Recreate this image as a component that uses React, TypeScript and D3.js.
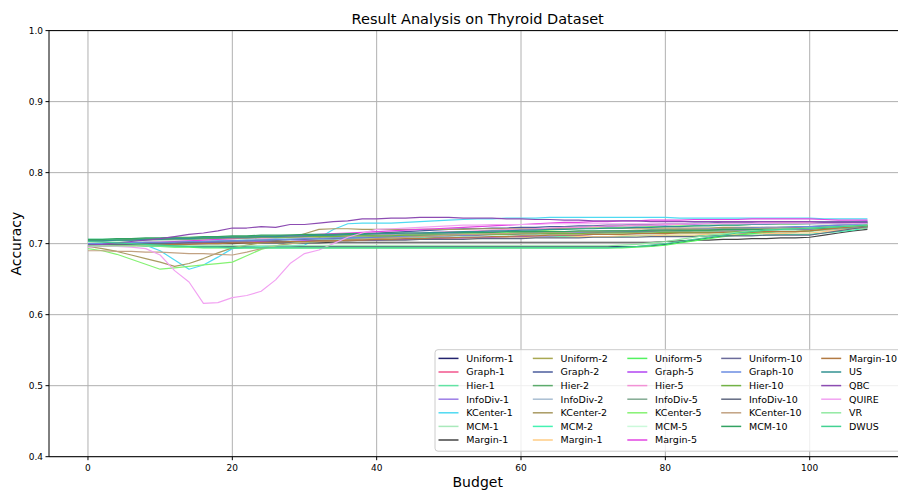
import { useEffect, useRef } from "react"
import * as d3 from "d3"

// budgets on the x axis
const budgets = [
  0, 2, 4, 6, 8, 10, 12, 14, 16, 18,
  20, 22, 24, 26, 28, 30, 32, 34, 36, 38,
  40, 42, 44, 46, 48, 50, 52, 54, 56, 58,
  60, 62, 64, 66, 68, 70, 72, 74, 76, 78,
  80, 82, 84, 86, 88, 90, 92, 94, 96, 98,
  100, 102, 104, 106, 108,
]

const yTicks = [0.4, 0.5, 0.6, 0.7, 0.8, 0.9, 1.0]
const xTicks = [0, 20, 40, 60, 80, 100]

// accuracy values in thousandths
const uniform1 = [699,699,698,698,697,697,697,696,696,696, 696,696,696,696,696,696,696,696,696,696, 696,696,696,696,696,696,696,696,696,696, 696,696,696,696,696,696,696,696,696,697, 699,702,705,708,711,713,715,717,719,720, 721,722,723,724,725]
const graph1 = [702,702,703,703,703,704,704,704,705,705, 705,706,706,706,707,707,707,708,708,708, 709,709,709,710,710,710,711,711,711,712, 712,712,713,713,713,714,714,714,715,715, 715,716,716,716,717,717,717,718,718,718, 719,719,720,721,722]
const hier1 = [704,704,705,705,706,706,707,707,708,708, 709,709,710,710,711,711,711,712,712,712, 713,713,713,714,714,714,714,715,715,715, 715,716,716,716,716,716,717,717,717,717, 717,718,718,718,718,719,719,719,719,720, 720,721,722,723,724]
const infoDiv1 = [697,697,698,698,698,699,699,700,700,701, 701,702,702,703,703,704,705,706,707,708, 709,710,711,712,713,714,715,716,717,718, 719,720,721,722,723,724,724,725,725,726, 726,727,727,728,728,728,729,729,729,730, 730,730,731,731,732]
const kCenter1 = [704,704,703,702,698,690,677,664,670,681, 693,695,696,697,697,698,708,720,728,729, 729,729,730,731,732,733,734,735,735,736, 736,736,737,737,737,737,737,737,737,737, 737,736,736,736,736,736,736,736,736,736, 736,735,735,735,735]
const mcm1 = [700,700,701,701,702,702,703,703,703,704, 704,705,705,705,706,706,707,707,707,708, 708,709,709,709,710,710,710,711,711,711, 712,712,712,712,713,713,713,713,714,714, 714,714,715,715,715,716,716,716,717,717, 717,719,721,723,725]
const margin1 = [697,698,698,699,699,699,700,700,700,700, 700,701,701,701,701,701,701,702,702,702, 702,702,702,702,702,702,702,702,702,702, 702,702,702,702,702,702,702,702,702,702, 703,704,705,705,706,706,707,707,708,708, 709,712,715,718,720]
const uniform2 = [701,701,702,702,702,703,703,703,704,704, 705,705,706,706,707,707,708,708,709,709, 710,710,711,711,711,712,712,712,713,713, 713,714,714,714,715,715,715,716,716,716, 717,717,717,718,718,718,719,719,719,720, 720,721,722,722,723]
const graph2 = [700,700,700,701,701,702,702,703,703,704, 705,706,707,708,709,710,711,712,713,714, 715,716,717,718,719,720,721,721,722,722, 723,723,724,724,725,725,726,726,727,727, 728,728,729,729,730,730,730,731,731,731, 731,731,731,731,731]
const hier2 = [705,705,706,706,707,707,708,708,709,709, 710,710,711,711,712,712,712,713,713,713, 714,714,714,714,715,715,715,715,715,716, 716,716,716,716,716,717,717,717,717,717, 717,718,718,718,718,718,719,719,719,719, 720,721,722,723,724]
const infoDiv2 = [698,698,699,699,700,700,701,701,702,702, 703,703,704,704,705,705,706,706,707,707, 708,708,709,709,710,710,711,711,711,712, 712,712,713,713,713,714,714,714,715,715, 715,716,716,716,717,717,717,718,718,718, 719,720,721,722,723]
const kCenter2 = [696,693,689,684,679,674,668,672,679,687, 694,698,701,704,708,714,720,721,721,720, 720,720,720,720,720,720,720,721,721,721, 721,721,721,721,721,722,722,722,722,722, 722,722,722,722,723,723,723,723,723,723, 724,724,724,725,725]
const mcm2 = [706,706,706,706,706,706,706,706,706,706, 706,706,706,707,707,707,707,707,707,708, 708,708,708,708,708,709,709,709,709,709, 709,709,710,710,710,710,710,710,711,711, 711,711,711,712,712,712,712,712,713,713, 713,715,717,719,722]
const margin1b = [698,698,699,699,700,700,700,701,701,701, 702,702,702,703,703,703,704,704,704,705, 705,705,706,706,706,707,707,707,708,708, 708,709,709,709,710,710,710,711,711,711, 712,712,712,713,713,713,714,714,714,715, 715,717,719,721,723]
const uniform5 = [701,700,699,698,697,696,695,695,694,694, 694,694,694,694,694,694,694,694,694,694, 694,694,694,694,694,694,694,694,694,694, 694,694,694,694,694,694,694,694,695,696, 698,701,704,707,710,712,714,716,718,719, 720,721,722,723,724]
const graph5 = [699,699,699,700,700,700,701,701,701,702, 702,702,703,703,703,704,704,704,705,705, 705,706,706,707,707,708,708,709,709,710, 710,711,711,712,712,713,713,714,714,715, 715,716,716,717,717,718,718,719,719,720, 720,721,722,723,724]
const hier5 = [701,701,702,702,703,703,704,704,705,705, 706,706,707,708,708,709,710,710,711,712, 713,713,714,715,716,717,717,718,719,720, 720,721,722,723,723,724,725,725,726,726, 727,727,728,728,729,729,729,730,730,730, 730,730,730,730,730]
const infoDiv5 = [703,703,704,704,705,705,706,706,707,707, 708,708,709,709,710,710,710,711,711,711, 712,712,712,712,713,713,713,713,714,714, 714,714,715,715,715,715,716,716,716,716, 717,717,717,717,718,718,718,718,719,719, 719,720,721,722,723]
const kCenter5 = [693,690,685,678,671,664,666,668,670,672, 674,683,692,697,700,702,703,704,705,706, 707,708,709,710,711,712,713,714,715,716, 717,718,719,720,721,722,722,723,723,724, 724,725,725,726,726,726,727,727,727,727, 728,728,728,728,728]
const mcm5 = [702,702,703,703,703,704,704,704,705,705, 705,706,706,706,707,707,707,708,708,708, 709,709,709,710,710,710,711,711,711,712, 712,712,712,713,713,713,714,714,714,715, 715,715,716,716,716,717,717,717,718,718, 718,720,722,724,726]
const margin5 = [700,700,701,701,702,702,703,704,705,706, 707,708,709,710,711,712,713,714,715,716, 717,718,719,720,721,722,723,724,725,726, 727,728,729,730,730,731,731,732,732,733, 733,733,734,734,734,734,735,735,735,735, 735,734,733,733,733]
const uniform10 = [699,699,700,700,701,701,702,702,703,703, 704,704,705,705,706,706,707,707,708,708, 709,709,710,710,711,711,712,712,713,713, 714,714,715,715,716,716,717,717,718,718, 719,719,720,720,721,721,722,722,723,723, 724,725,726,727,728]
const graph10 = [700,700,701,701,702,702,702,703,703,704, 704,705,705,706,706,707,707,708,708,709, 709,710,710,711,711,712,712,713,713,714, 714,715,715,716,716,717,717,718,718,719, 719,720,720,721,721,722,722,723,723,724, 724,725,726,727,728]
const hier10 = [705,705,705,706,706,706,707,707,707,708, 708,708,709,709,709,710,710,710,711,711, 711,711,712,712,712,712,713,713,713,713, 714,714,714,714,714,715,715,715,715,715, 716,716,716,716,716,717,717,717,717,717, 718,720,722,724,726]
const infoDiv10 = [698,698,699,699,700,700,700,701,701,701, 702,702,702,703,703,703,704,704,704,705, 705,705,705,706,706,706,706,707,707,707, 707,708,708,708,708,709,709,709,709,710, 710,710,710,711,711,711,711,712,712,712, 712,715,718,721,724]
const kCenter10 = [690,690,689,689,688,688,687,686,686,685, 684,688,693,697,700,702,703,704,705,706, 707,708,709,710,711,712,713,713,714,714, 715,715,716,716,717,717,718,718,719,719, 719,720,720,720,721,721,721,722,722,722, 722,723,723,724,724]
const mcm10 = [706,706,707,707,708,708,709,709,710,710, 711,711,712,712,712,713,713,713,714,714, 714,715,715,715,715,716,716,716,716,717, 717,717,717,717,718,718,718,718,718,719, 719,719,719,719,720,720,720,720,720,721, 721,722,723,724,725]
const margin10 = [696,696,697,697,698,698,699,699,700,700, 701,701,702,702,703,703,704,704,705,705, 706,706,707,707,708,708,709,709,710,710, 711,711,712,712,712,713,713,713,714,714, 714,715,715,715,716,716,716,717,717,717, 718,720,722,724,726]
const us = [704,704,705,705,706,706,707,707,708,708, 709,709,710,710,711,711,712,712,713,713, 714,714,715,715,716,716,717,717,718,718, 719,719,720,720,721,721,722,722,723,723, 724,724,725,725,726,726,727,727,728,728, 728,729,729,730,730]
const qbc = [698,699,701,703,705,707,710,713,715,718, 722,722,724,723,727,727,729,731,732,735, 735,736,736,737,737,737,736,736,736,735, 735,734,734,733,733,732,732,732,732,731, 731,731,731,731,731,731,731,731,731,731, 731,730,730,730,730]
const quire = [695,697,696,695,693,684,662,646,616,617, 624,627,633,649,672,686,691,700,709,715, 720,721,722,723,724,725,726,726,727,727, 727,727,728,728,728,728,728,728,728,728, 728,728,728,728,728,728,728,728,728,728, 728,728,728,728,728]
const vr = [697,697,697,697,697,697,697,697,697,697, 697,697,697,697,697,697,697,697,697,697, 697,697,697,697,697,697,697,697,697,697, 697,697,697,697,697,697,697,698,699,701, 703,706,709,712,714,716,718,719,720,721, 722,723,724,725,726]
const dwus = [703,702,701,700,699,698,697,696,695,695, 694,694,694,694,694,694,694,694,694,694, 694,694,694,694,694,694,694,694,694,694, 694,694,694,694,694,694,694,695,696,698, 700,703,706,709,712,715,717,719,720,721, 722,723,724,725,726]

const seriesNames = [
  "Uniform-1", "Graph-1", "Hier-1", "InfoDiv-1", "KCenter-1", "MCM-1", "Margin-1",
  "Uniform-2", "Graph-2", "Hier-2", "InfoDiv-2", "KCenter-2", "MCM-2", "Margin-1",
  "Uniform-5", "Graph-5", "Hier-5", "InfoDiv-5", "KCenter-5", "MCM-5", "Margin-5",
  "Uniform-10", "Graph-10", "Hier-10", "InfoDiv-10", "KCenter-10", "MCM-10",
  "Margin-10", "US", "QBC", "QUIRE", "VR", "DWUS",
]
const seriesValues = [
  uniform1, graph1, hier1, infoDiv1, kCenter1, mcm1, margin1,
  uniform2, graph2, hier2, infoDiv2, kCenter2, mcm2, margin1b,
  uniform5, graph5, hier5, infoDiv5, kCenter5, mcm5, margin5,
  uniform10, graph10, hier10, infoDiv10, kCenter10, mcm10,
  margin10, us, qbc, quire, vr, dwus,
]
const seriesColors = [
  "#23236e", "#f2558c", "#62e3a4", "#9b7de6", "#4fdaf2", "#a9e9bb", "#454545",
  "#a9a852", "#4b5c9c", "#5cab6c", "#a9bed2", "#a99a62", "#45f2b2", "#ffcd85",
  "#52f25f", "#b245f2", "#f292d6", "#82aa92", "#85f272", "#cbf9da", "#e245e2",
  "#6b6b9a", "#6b8ce2", "#72b245", "#626a82", "#c2a282", "#32a262",
  "#b27a42", "#329292", "#8c4cb2", "#f2a2f2", "#92e9a2", "#42d292",
]

// legend layout (matplotlib style, 5 columns: 7,7,7,6,6 entries)
const legendColX = [438.5, 532.8, 627.3, 721.2, 821.2]
const legendColCount = [7, 7, 7, 6, 6]

export default function App() {
  const svgRef = useRef<SVGSVGElement>(null)

  useEffect(() => {
    if (!svgRef.current) return
    const svg = d3.select(svgRef.current)
    svg.selectAll("*").remove()

    const width = 898
    const height = 491
    const left = 49
    const top = 30.6
    const bottom = 456.7
    const right = 906.4
    const font = "DejaVu Sans, sans-serif"

    const x = d3.scaleLinear().domain([-5.4, 113.4]).range([left, right])
    const y = d3.scaleLinear().domain([0.4, 1.0]).range([bottom, top])

    svg.attr("width", width).attr("height", height)
    svg.append("rect").attr("width", width).attr("height", height).attr("fill", "#fff")

    svg.append("defs").append("clipPath").attr("id", "plotclip")
      .append("rect").attr("x", left).attr("y", top).attr("width", right - left).attr("height", bottom - top)

    // grid
    const grid = svg.append("g")
    xTicks.forEach((t) => {
      grid.append("line")
        .attr("x1", x(t)).attr("x2", x(t)).attr("y1", top).attr("y2", bottom)
        .attr("stroke", "#b0b0b0").attr("stroke-width", 1)
    })
    yTicks.forEach((t) => {
      grid.append("line")
        .attr("x1", left).attr("x2", right).attr("y1", y(t)).attr("y2", y(t))
        .attr("stroke", "#b0b0b0").attr("stroke-width", 1)
    })

    // lines
    const line = d3.line<number>()
      .x((_, i) => x(budgets[i]))
      .y((d) => y(d / 1000))

    const plot = svg.append("g").attr("clip-path", "url(#plotclip)")
    seriesValues.forEach((vals, i) => {
      plot.append("path")
        .datum(vals)
        .attr("fill", "none")
        .attr("stroke", seriesColors[i])
        .attr("stroke-width", 1.2)
        .attr("stroke-linejoin", "round")
        .attr("d", line)
    })

    // spines
    svg.append("line").attr("x1", left).attr("x2", left).attr("y1", top).attr("y2", bottom)
      .attr("stroke", "#000").attr("stroke-width", 1)
    svg.append("line").attr("x1", left).attr("x2", right).attr("y1", bottom).attr("y2", bottom)
      .attr("stroke", "#000").attr("stroke-width", 1)
    svg.append("line").attr("x1", left).attr("x2", right).attr("y1", top).attr("y2", top)
      .attr("stroke", "#000").attr("stroke-width", 1)

    // ticks
    xTicks.forEach((t) => {
      svg.append("line").attr("x1", x(t)).attr("x2", x(t)).attr("y1", bottom).attr("y2", bottom + 3.5)
        .attr("stroke", "#000")
      svg.append("text").attr("x", x(t)).attr("y", bottom + 14)
        .attr("text-anchor", "middle").attr("font-family", font).attr("font-size", 9)
        .text(d3.format("d")(t))
    })
    yTicks.forEach((t) => {
      svg.append("line").attr("x1", left - 3.5).attr("x2", left).attr("y1", y(t)).attr("y2", y(t))
        .attr("stroke", "#000")
      svg.append("text").attr("x", left - 6).attr("y", y(t) + 3.3)
        .attr("text-anchor", "end").attr("font-family", font).attr("font-size", 9)
        .text(d3.format(".1f")(t))
    })

    // labels
    const cx = (left + right) / 2
    svg.append("text").attr("x", cx).attr("y", 24)
      .attr("text-anchor", "middle").attr("font-family", font).attr("font-size", 14.5)
      .text("Result Analysis on Thyroid Dataset")
    svg.append("text").attr("x", cx).attr("y", 487)
      .attr("text-anchor", "middle").attr("font-family", font).attr("font-size", 14)
      .text("Budget")
    svg.append("text")
      .attr("transform", `translate(21,${(top + bottom) / 2}) rotate(-90)`)
      .attr("text-anchor", "middle").attr("font-family", font).attr("font-size", 14)
      .text("Accuracy")

    // legend
    const lg = svg.append("g")
    lg.append("rect")
      .attr("x", 435).attr("y", 349.7).attr("width", 480).attr("height", 101.5)
      .attr("rx", 3).attr("fill", "#fff").attr("fill-opacity", 0.8)
      .attr("stroke", "#cccccc").attr("stroke-width", 1)
    let idx = 0
    legendColCount.forEach((count, col) => {
      for (let row = 0; row < count; row++) {
        const i = idx++
        const lx = legendColX[col]
        const ly = 358.4 + row * 13.6
        lg.append("line")
          .attr("x1", lx).attr("x2", lx + 20).attr("y1", ly).attr("y2", ly)
          .attr("stroke", seriesColors[i]).attr("stroke-width", 1.5)
        lg.append("text")
          .attr("x", lx + 27.8).attr("y", ly + 3.4)
          .attr("font-family", font).attr("font-size", 9.5)
          .text(seriesNames[i])
      }
    })
  }, [])

  return (
    <div>
      <style>{`body{margin:0;overflow:hidden}`}</style>
      <svg ref={svgRef} style={{ display: "block" }} />
    </div>
  )
}
